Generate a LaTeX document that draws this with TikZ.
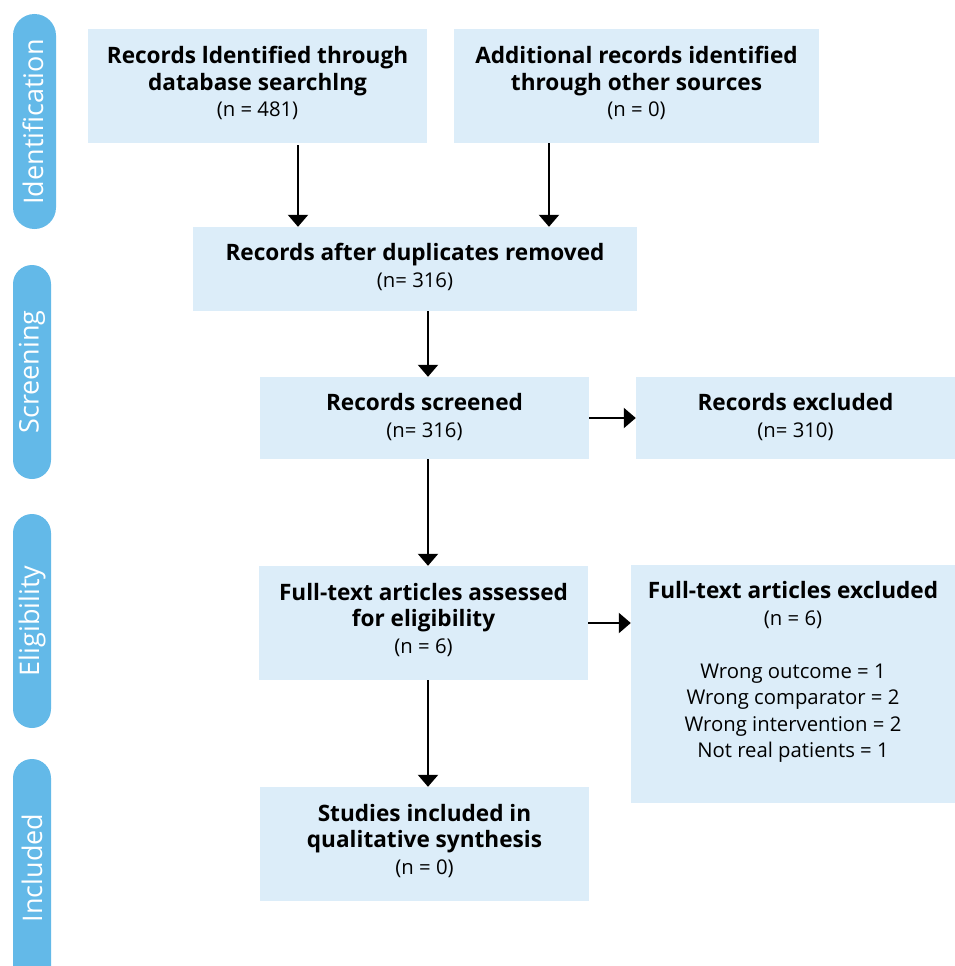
\documentclass[tikz,border=0pt]{standalone}
\usepackage{fontspec}
\setmainfont{Open Sans}
\usetikzlibrary{arrows.meta}
\definecolor{boxfill}{HTML}{DCEDF9}
\definecolor{pill}{HTML}{63B9E8}
\tikzset{
  box/.style={draw=none, fill=boxfill, inner sep=0pt},
  txt/.style={align=center, inner sep=0pt, font=\fontsize{22.6}{26.5}\selectfont},
  pilltext/.style={text=white, rotate=90, inner sep=0pt, font=\fontsize{27}{30}\selectfont},
  arr/.style={line width=2.2pt, -{Triangle[width=20pt,length=12pt]}},
}
\newcommand{\nn}[1]{{\fontsize{20.3}{26.5}\selectfont #1}}
\begin{document}
\begin{tikzpicture}[x=1pt,y=-1pt]
\useasboundingbox (0,0) rectangle (955,966);
% phase pills
\fill[pill, rounded corners=21.5pt] (13,14) rectangle (56,229);
\fill[pill, rounded corners=19pt] (13,265) rectangle (51,479);
\fill[pill, rounded corners=19pt] (13,514) rectangle (51,728);
\fill[pill, rounded corners=19pt] (13,759) rectangle (51,990);
\node[pilltext] (p1) at (33,122) {Identification};
\node[pilltext] (p2) at (32,372) {Screening};
\node[pilltext] (p3) at (32,621) {Eligibility};
\node[pilltext] (p4) at (32,868) {Included};
% boxes
\node[box, minimum width=339pt, minimum height=114pt] (A) at (257.5,86) {};
\node[box, minimum width=365pt, minimum height=114pt] (B) at (636.5,86) {};
\node[box, minimum width=444pt, minimum height=84pt] (C) at (415,269) {};
\node[box, minimum width=329pt, minimum height=82pt] (D) at (424.5,418) {};
\node[box, minimum width=319pt, minimum height=82pt] (E) at (795.5,418) {};
\node[box, minimum width=329pt, minimum height=114pt] (F) at (423.5,623) {};
\node[box, minimum width=324pt, minimum height=238pt] (G) at (793,684) {};
\node[box, minimum width=329pt, minimum height=114pt] (H) at (424.5,844) {};
% texts
\node[txt] (tA) at (257.5,83) {\bfseries Records ldentified through\\ \bfseries database searchlng\\ \nn{(n = 481)}};
\node[txt] (tB) at (636.5,83) {\bfseries Additional records identified\\ \bfseries through other sources\\ \nn{(n = 0)}};
\node[txt] (tC) at (415,267) {\bfseries Records after duplicates removed\\ \nn{(n= 316)}};
\node[txt] (tD) at (424.5,417) {\bfseries Records screened\\ \nn{(n= 316)}};
\node[txt] (tE) at (795.5,417) {\bfseries Records excluded\\ \nn{(n= 310)}};
\node[txt] (tF) at (423.5,620) {\bfseries Full-text articles assessed\\ \bfseries for eligibility\\ \nn{(n = 6)}};
\node[txt] (tG) at (793,672) {\bfseries Full-text articles excluded\\ \nn{(n = 6)}\\[26.5pt] \nn{Wrong outcome = 1}\\ \nn{Wrong comparator = 2}\\ \nn{Wrong intervention = 2}\\ \nn{Not real patients = 1}};
\node[txt] (tH) at (424.5,841) {\bfseries Studies included in\\ \bfseries qualitative synthesis\\ \nn{(n = 0)}};
% connectors
\draw[arr] (A.south -| 298,0) ++(0,2) -- (C.north -| 298,0);
\draw[arr] (B.south -| 549,0) -- (C.north -| 549,0);
\draw[arr] (C.south -| 428,0) -- (D.north -| 428,0);
\draw[arr] (D.east) -- (E.west);
\draw[arr] (D.south -| 428,0) -- (F.north -| 428,0);
\draw[arr] (F.east) -- (G.west |- F.east);
\draw[arr] (F.south -| 428,0) -- (H.north -| 428,0);
\end{tikzpicture}
\end{document}
